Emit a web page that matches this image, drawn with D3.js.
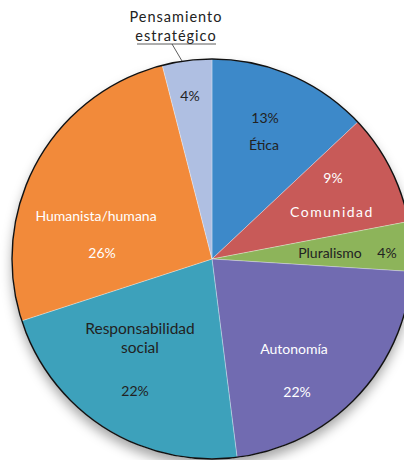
<!DOCTYPE html>
<html>
<head>
<meta charset="utf-8">
<script src="https://cdn.jsdelivr.net/npm/d3@7"></script>
<style>
  body { margin: 0; background: #fff; }
  text { font-family: Lato, "Open Sans", sans-serif; font-size: 14px; }
</style>
</head>
<body>
<script>
// slices, clockwise from 12 o'clock
const names = ['Ética', 'Comunidad', 'Pluralismo', 'Autonomía', 'Responsabilidad social', 'Humanista/humana', 'Pensamiento estratégico'];
const values = [13, 9, 4, 22, 22, 26, 4];
const colors = ['#3d89c9', '#c85a58', '#8db45a', '#716bb1', '#3da1bb', '#f28a3a', '#afbfe2'];

const W = 404, H = 460, cx = 212, cy = 259, R = 200;

const svg = d3.select('body').append('svg').attr('width', W).attr('height', H);

const defs = svg.append('defs');
const f = defs.append('filter').attr('id', 'sh').attr('x', '-20%').attr('y', '-20%').attr('width', '140%').attr('height', '140%');
f.append('feDropShadow').attr('dx', 0).attr('dy', 7).attr('stdDeviation', 6)
    .attr('flood-color', '#000').attr('flood-opacity', 0.35);

const g = svg.append('g').attr('transform', `translate(${cx},${cy})`);

const pie = d3.pie().sort(null).value(d => d)(values);
const arc = d3.arc().innerRadius(0).outerRadius(R);

g.append('circle').attr('r', R).attr('fill', '#fff').attr('filter', 'url(#sh)');

g.selectAll('path.s').data(pie).enter().append('path')
    .attr('class', 's')
    .attr('d', arc)
    .attr('fill', (d, i) => colors[i])
    .attr('stroke', 'rgba(255,255,255,0.5)')
    .attr('stroke-width', 0.6);

g.append('circle').attr('r', R).attr('fill', 'none').attr('stroke', '#111').attr('stroke-width', 1.4);

// labels: [lines, x, y, color, letterSpacing, fontSize]
const labels = [
    [['4%'], 190, 101, '#222'],
    [['13%'], 265, 123, '#222'],
    [['Ética'], 264, 150, '#222'],
    [['9%'], 333, 183, '#fff'],
    [['Comunidad'], 332, 217, '#fff', 1.5],
    [['Pluralismo'], 330, 258, '#222'],
    [['4%'], 387, 258, '#222'],
    [['Autonomía'], 294, 354, '#fff'],
    [['22%'], 297, 397, '#fff'],
    [['Responsabilidad', 'social'], 140, 334, '#222', 0, 15.5],
    [['22%'], 135, 396, '#222'],
    [['Humanista/humana'], 96, 221, '#fff'],
    [['26%'], 102, 258, '#fff'],
    [['Pensamiento', 'estratégico'], 176, 22, '#222', 1, 14.5]
];

labels.forEach(([lines, x, y, c, ls, fs]) => {
    const t = svg.append('text').attr('x', x).attr('y', y)
        .attr('text-anchor', 'middle').attr('fill', c)
        .style('letter-spacing', (ls || 0) + 'px')
        .style('font-size', (fs || 14) + 'px');
    lines.forEach((l, i) => t.append('tspan').attr('x', x).attr('dy', i ? 19 : 0).text(l));
});

// callout for Pensamiento estratégico
svg.append('line').attr('x1', 137).attr('x2', 216).attr('y1', 44).attr('y2', 44).attr('stroke', '#333').attr('stroke-width', 0.8);
svg.append('line').attr('x1', 172).attr('y1', 44).attr('x2', 182).attr('y2', 61).attr('stroke', '#333').attr('stroke-width', 0.8);
</script>
</body>
</html>
